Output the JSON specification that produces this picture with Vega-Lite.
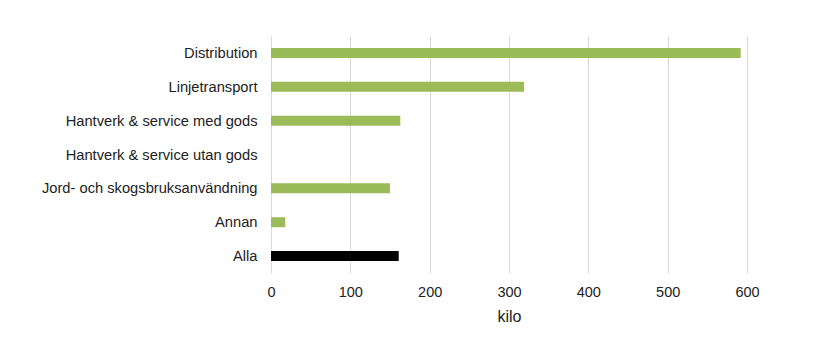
{
  "$schema": "https://vega.github.io/schema/vega-lite/v6.json",
  "width": 476,
  "height": 237,
  "autosize": {"type": "none"},
  "padding": {"left": 271, "top": 36, "right": 68, "bottom": 77},
  "background": "white",
  "config": {
    "view": {"stroke": null},
    "font": "Liberation Sans",
    "axis": {"labelFont": "Liberation Sans", "titleFont": "Liberation Sans", "labelColor": "#222", "titleColor": "#222"}
  },
  "data": {
    "values": [
      {"kategori": "Distribution", "kilo": 592, "typ": "del"},
      {"kategori": "Linjetransport", "kilo": 319, "typ": "del"},
      {"kategori": "Hantverk & service med gods", "kilo": 163, "typ": "del"},
      {"kategori": "Hantverk & service utan gods", "kilo": 0, "typ": "del"},
      {"kategori": "Jord- och skogsbruksanvändning", "kilo": 150, "typ": "del"},
      {"kategori": "Annan", "kilo": 18, "typ": "del"},
      {"kategori": "Alla", "kilo": 161, "typ": "alla"}
    ]
  },
  "mark": {"type": "bar", "size": 10},
  "encoding": {
    "y": {
      "field": "kategori",
      "type": "nominal",
      "sort": null,
      "title": null,
      "axis": {"ticks": false, "domain": false, "labelFontSize": 14.7, "labelPadding": 14, "grid": false, "labelLimit": 300, "labelOffset": 1}
    },
    "x": {
      "field": "kilo",
      "type": "quantitative",
      "title": "kilo",
      "scale": {"domain": [0, 600], "nice": false},
      "axis": {"values": [0, 100, 200, 300, 400, 500, 600], "ticks": false, "domain": false, "grid": true, "gridColor": "#d9d9d9", "labelFlush": false, "labelFontSize": 14.5, "labelPadding": 12, "titleFontSize": 16, "titleFontWeight": "normal", "titlePadding": 10}
    },
    "color": {
      "field": "typ",
      "type": "nominal",
      "scale": {"domain": ["del", "alla"], "range": ["#9BBB59", "#000000"]},
      "legend": null
    }
  }
}
